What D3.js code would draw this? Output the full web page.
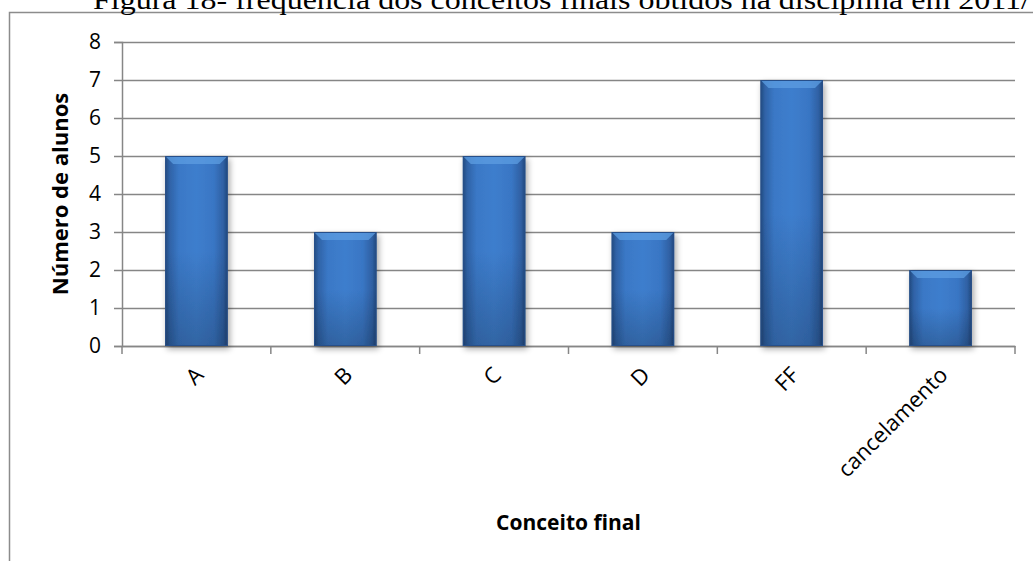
<!DOCTYPE html>
<html><head><meta charset="utf-8">
<script src="https://cdn.jsdelivr.net/npm/d3@7"></script>
<style>body{margin:0;background:#fff}svg{display:block}</style>
</head><body>
<script>
const categories = ["A","B","C","D","FF","cancelamento"];
const values = [5,3,5,3,7,2];
const yTicks = [0,1,2,3,4,5,6,7,8];
const title = "Figura 18- frequência dos conceitos finais obtidos na disciplina em 2011/";
const yTitle = "Número de alunos";
const xTitle = "Conceito final";

const W=1033,H=561;
const m={left:122,right:18,top:42,bottom:215};
const svg=d3.select("body").append("svg").attr("width",W).attr("height",H);
const defs=svg.append("defs");
const gh=defs.append("linearGradient").attr("id","gh").attr("x1","0").attr("x2","1").attr("y1","0").attr("y2","0");
[[0,"#22497e"],[0.07,"#2f62a6"],[0.22,"#3a78c6"],[0.5,"#3e7ecd"],[0.78,"#3976c4"],[0.93,"#2f60a3"],[1,"#21467a"]].forEach(s=>gh.append("stop").attr("offset",s[0]).attr("stop-color",s[1]));
const gv=defs.append("linearGradient").attr("id","gv").attr("x1","0").attr("x2","0").attr("y1","0").attr("y2","1");
[[0,"#ffffff",0.0],[0.5,"#000000",0.0],[1,"#000000",0.2]].forEach(s=>gv.append("stop").attr("offset",s[0]).attr("stop-color",s[1]).attr("stop-opacity",s[2]));
const f=defs.append("filter").attr("id","sh").attr("x","-20%").attr("y","-20%").attr("width","140%").attr("height","140%");
f.append("feGaussianBlur").attr("in","SourceAlpha").attr("stdDeviation",3).attr("result","b");
f.append("feOffset").attr("in","b").attr("dx",2).attr("dy",3).attr("result","o");
f.append("feComponentTransfer").attr("in","o").attr("result","o2").append("feFuncA").attr("type","linear").attr("slope",0.35);
const fm=f.append("feMerge");fm.append("feMergeNode").attr("in","o2");fm.append("feMergeNode").attr("in","SourceGraphic");

// frame
svg.append("path").attr("d",`M9.5,${H} V12.5 H${W}`).attr("fill","none").attr("stroke","#8c8c8c").attr("stroke-width",1.5);
// title (cut off at the top edge, as in the reference)
svg.append("text").attr("x",93).attr("y",9).attr("font-family","Liberation Serif").attr("font-size",27)
  .attr("textLength",937).attr("lengthAdjust","spacingAndGlyphs").attr("fill","#000").text(title);

const x=d3.scaleBand().domain(categories).range([m.left,W-m.right]).paddingInner(0.58).paddingOuter(0.29);
const y=d3.scaleLinear().domain([0,8]).range([H-m.bottom,m.top]);
const font="'Open Sans', sans-serif";

// grid
const gy=svg.append("g").attr("transform",`translate(${m.left},0)`)
  .call(d3.axisLeft(y).tickValues(yTicks).tickSize(8).tickPadding(13));
gy.select(".domain").attr("stroke","#868686").attr("stroke-width",1.5);
gy.selectAll(".tick line").attr("stroke","#868686").attr("stroke-width",1.5);
gy.selectAll(".tick").append("line").attr("x1",0).attr("x2",W-m.right-m.left).attr("stroke","#868686").attr("stroke-width",1.5);
gy.selectAll("text").attr("font-family",font).attr("font-size",21).attr("fill","#000");

// x axis
const gx=svg.append("g").attr("transform",`translate(0,${y(0)})`)
  .call(d3.axisBottom(x).tickSize(0).tickFormat(""));
gx.select(".domain").attr("stroke","#868686").attr("stroke-width",1.5);
const edges=d3.range(categories.length+1).map(i=>m.left+i*x.step());
gx.selectAll(".edge").data(edges).join("line").attr("x1",d=>d).attr("x2",d=>d).attr("y1",0).attr("y2",8)
  .attr("stroke","#868686").attr("stroke-width",1.5);
svg.append("g").selectAll("text").data(categories).join("text")
  .attr("transform",d=>`translate(${x(d)+x.bandwidth()/2+3},${y(0)+25}) rotate(-45)`)
  .attr("text-anchor","end").attr("dy","0.35em").attr("font-family",font).attr("font-size",22).attr("fill","#000").text(d=>d);

// bars
const bars=svg.append("g").selectAll("g").data(categories).join("g").attr("filter","url(#sh)");
bars.append("rect").attr("x",d=>x(d)).attr("width",x.bandwidth()).attr("y",(d,i)=>y(values[i])).attr("height",(d,i)=>y(0)-y(values[i])).attr("fill","url(#gh)");
bars.append("rect").attr("x",d=>x(d)).attr("width",x.bandwidth()).attr("y",(d,i)=>y(values[i])).attr("height",(d,i)=>y(0)-y(values[i])).attr("fill","url(#gv)");
// top bevel
bars.append("path").attr("d",(d,i)=>{const x0=x(d),x1=x0+x.bandwidth(),t=y(values[i]);return `M${x0},${t} H${x1} L${x1-8},${t+8} H${x0+8} Z`;}).attr("fill","#5c9de2").attr("opacity",0.75);
bars.append("rect").attr("x",d=>x(d)+0.5).attr("width",x.bandwidth()-1).attr("y",(d,i)=>y(values[i])+0.5).attr("height",(d,i)=>y(0)-y(values[i])-1).attr("fill","none").attr("stroke","#27508a").attr("stroke-width",1);

// axis titles
svg.append("text").attr("transform",`translate(68,${(y(0)+y(8))/2}) rotate(-90)`).attr("text-anchor","middle")
  .attr("font-family",font).attr("font-weight","bold").attr("font-size",22).attr("fill","#000").text(yTitle);
svg.append("text").attr("x",(m.left+W-m.right)/2).attr("y",530).attr("text-anchor","middle")
  .attr("font-family",font).attr("font-weight","bold").attr("font-size",21).attr("fill","#000").text(xTitle);
</script>
</body></html>
